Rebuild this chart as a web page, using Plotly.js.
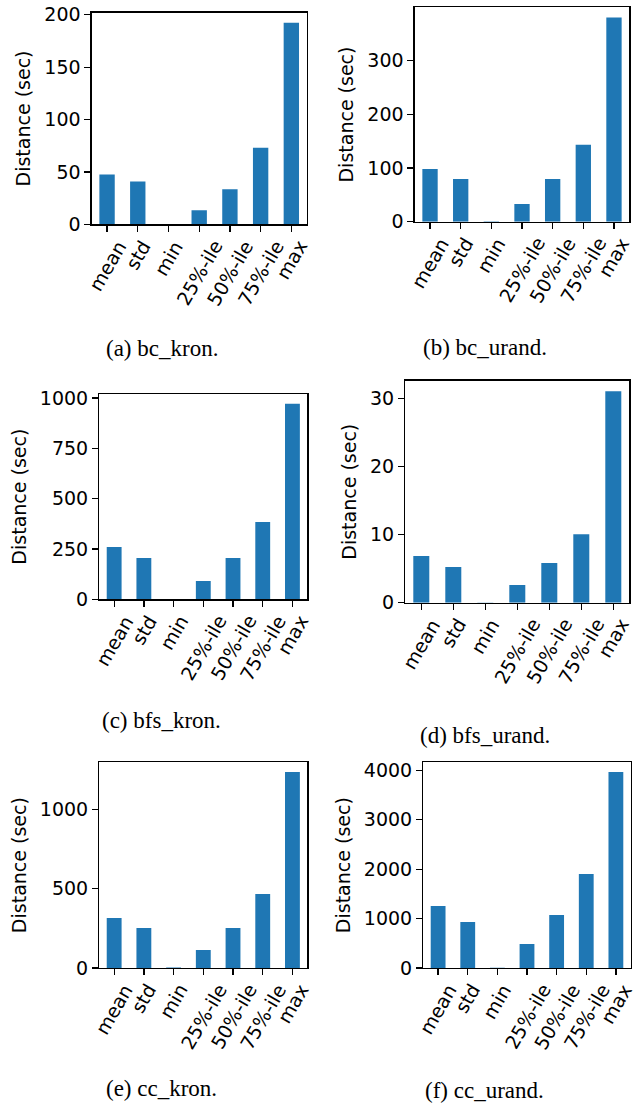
<!DOCTYPE html>
<html>
<head>
<meta charset="utf-8">
<script src="https://cdn.plot.ly/plotly-3.0.1.min.js"></script>
<style>
html,body{margin:0;padding:0;background:#fff;}
#chart{width:644px;height:1104px;}
</style>
</head>
<body>
<div id="chart"></div>
<script>
// Categories (x tick labels)
const categories = ["mean", "std", "min", "25%-ile", "50%-ile", "75%-ile", "max"];

// Series values (seconds)
const bc_kron   = [47.5, 40.9, 0.1, 13.5, 33.4, 73.0, 192.4];
const bc_urand  = [98.4, 79.8, 1.0, 33.0, 79.8, 143.3, 380.7];
const bfs_kron  = [260, 205, 0.5, 91, 205, 384, 972];
const bfs_urand = [6.85, 5.24, 0.02, 2.6, 5.82, 10.08, 31.08];
const cc_kron   = [315, 252, 3, 113, 252, 466, 1235];
const cc_urand  = [1255, 931, 5, 486, 1073, 1902, 3966];

// Captions
const captions = ["(a) bc_kron.", "(b) bc_urand.", "(c) bfs_kron.", "(d) bfs_urand.", "(e) cc_kron.", "(f) cc_urand."];

const series = [bc_kron, bc_urand, bfs_kron, bfs_urand, cc_kron, cc_urand];
const dticks = [50, 100, 250, 10, 500, 1000];

const W = 644, H = 1104;
// plot-area boxes in pixels [left, right, top, bottom]
const boxes = [
  [91.7, 306.7, 12.7, 224.3],
  [414.7, 629.3, 7.3, 221.7],
  [99.3, 307.3, 394, 599.3],
  [405.3, 629.3, 380.7, 602.7],
  [99.3, 307.3, 762.3, 968],
  [423.3, 630.7, 762.3, 968]
];
const capPos = [[162, 348], [485, 347], [162, 720], [485, 735], [162, 1088], [485, 1090]];

const FS = 19;
const tickFont = {family: "DejaVu Sans", size: FS, color: "#000"};
const traces = [];
const layout = {
  width: W, height: H,
  margin: {l: 0, r: 0, t: 0, b: 0},
  paper_bgcolor: "#fff", plot_bgcolor: "#fff",
  showlegend: false,
  annotations: []
};

series.forEach((vals, i) => {
  const n = i + 1;
  const sx = n === 1 ? "" : String(n);
  const b = boxes[i];
  traces.push({
    type: "bar",
    x: categories,
    y: vals,
    xaxis: "x" + sx,
    yaxis: "y" + sx,
    width: 0.5,
    marker: {color: "#1f77b4", line: {width: 0}},
    hoverinfo: "x+y"
  });
  const ymax = Math.max(...vals) * 1.05;
  layout["xaxis" + sx] = {
    domain: [b[0] / W, b[1] / W],
    anchor: "y" + sx,
    type: "category",
    range: [-0.5, 6.5],
    showline: true, mirror: true, linecolor: "#000", linewidth: 1.3,
    ticks: "outside", ticklen: 6, tickwidth: 1.3, tickcolor: "#000",
    showticklabels: false,
    showgrid: false, zeroline: false,
    automargin: false,
    fixedrange: true
  };
  layout["yaxis" + sx] = {
    domain: [1 - b[3] / H, 1 - b[2] / H],
    anchor: "x" + sx,
    range: [0, ymax],
    dtick: dticks[i], tick0: 0,
    showline: true, mirror: true, linecolor: "#000", linewidth: 1.3,
    ticks: "outside", ticklen: 6, tickwidth: 1.3, tickcolor: "#000",
    tickfont: tickFont,
    showgrid: false, zeroline: false,
    automargin: false,
    title: {text: "Distance (sec)", font: {family: "DejaVu Sans", size: FS, color: "#000"}, standoff: 8},
    fixedrange: true
  };
  // rotated category labels, centred under each tick (matplotlib style)
  categories.forEach((c) => {
    layout.annotations.push({
      text: c,
      xref: "x" + sx, yref: "paper",
      x: c, y: 1 - b[3] / H,
      xanchor: "center", yanchor: "top",
      yshift: -11,
      textangle: -60,
      showarrow: false,
      borderpad: 0,
      font: tickFont
    });
  });
  layout.annotations.push({
    text: captions[i],
    xref: "paper", yref: "paper",
    x: capPos[i][0] / W, y: 1 - capPos[i][1] / H,
    xanchor: "center", yanchor: "middle",
    showarrow: false,
    font: {family: "Liberation Serif", size: 23, color: "#000"}
  });
});

Plotly.newPlot("chart", traces, layout, {displayModeBar: false, staticPlot: true});
</script>
</body>
</html>
